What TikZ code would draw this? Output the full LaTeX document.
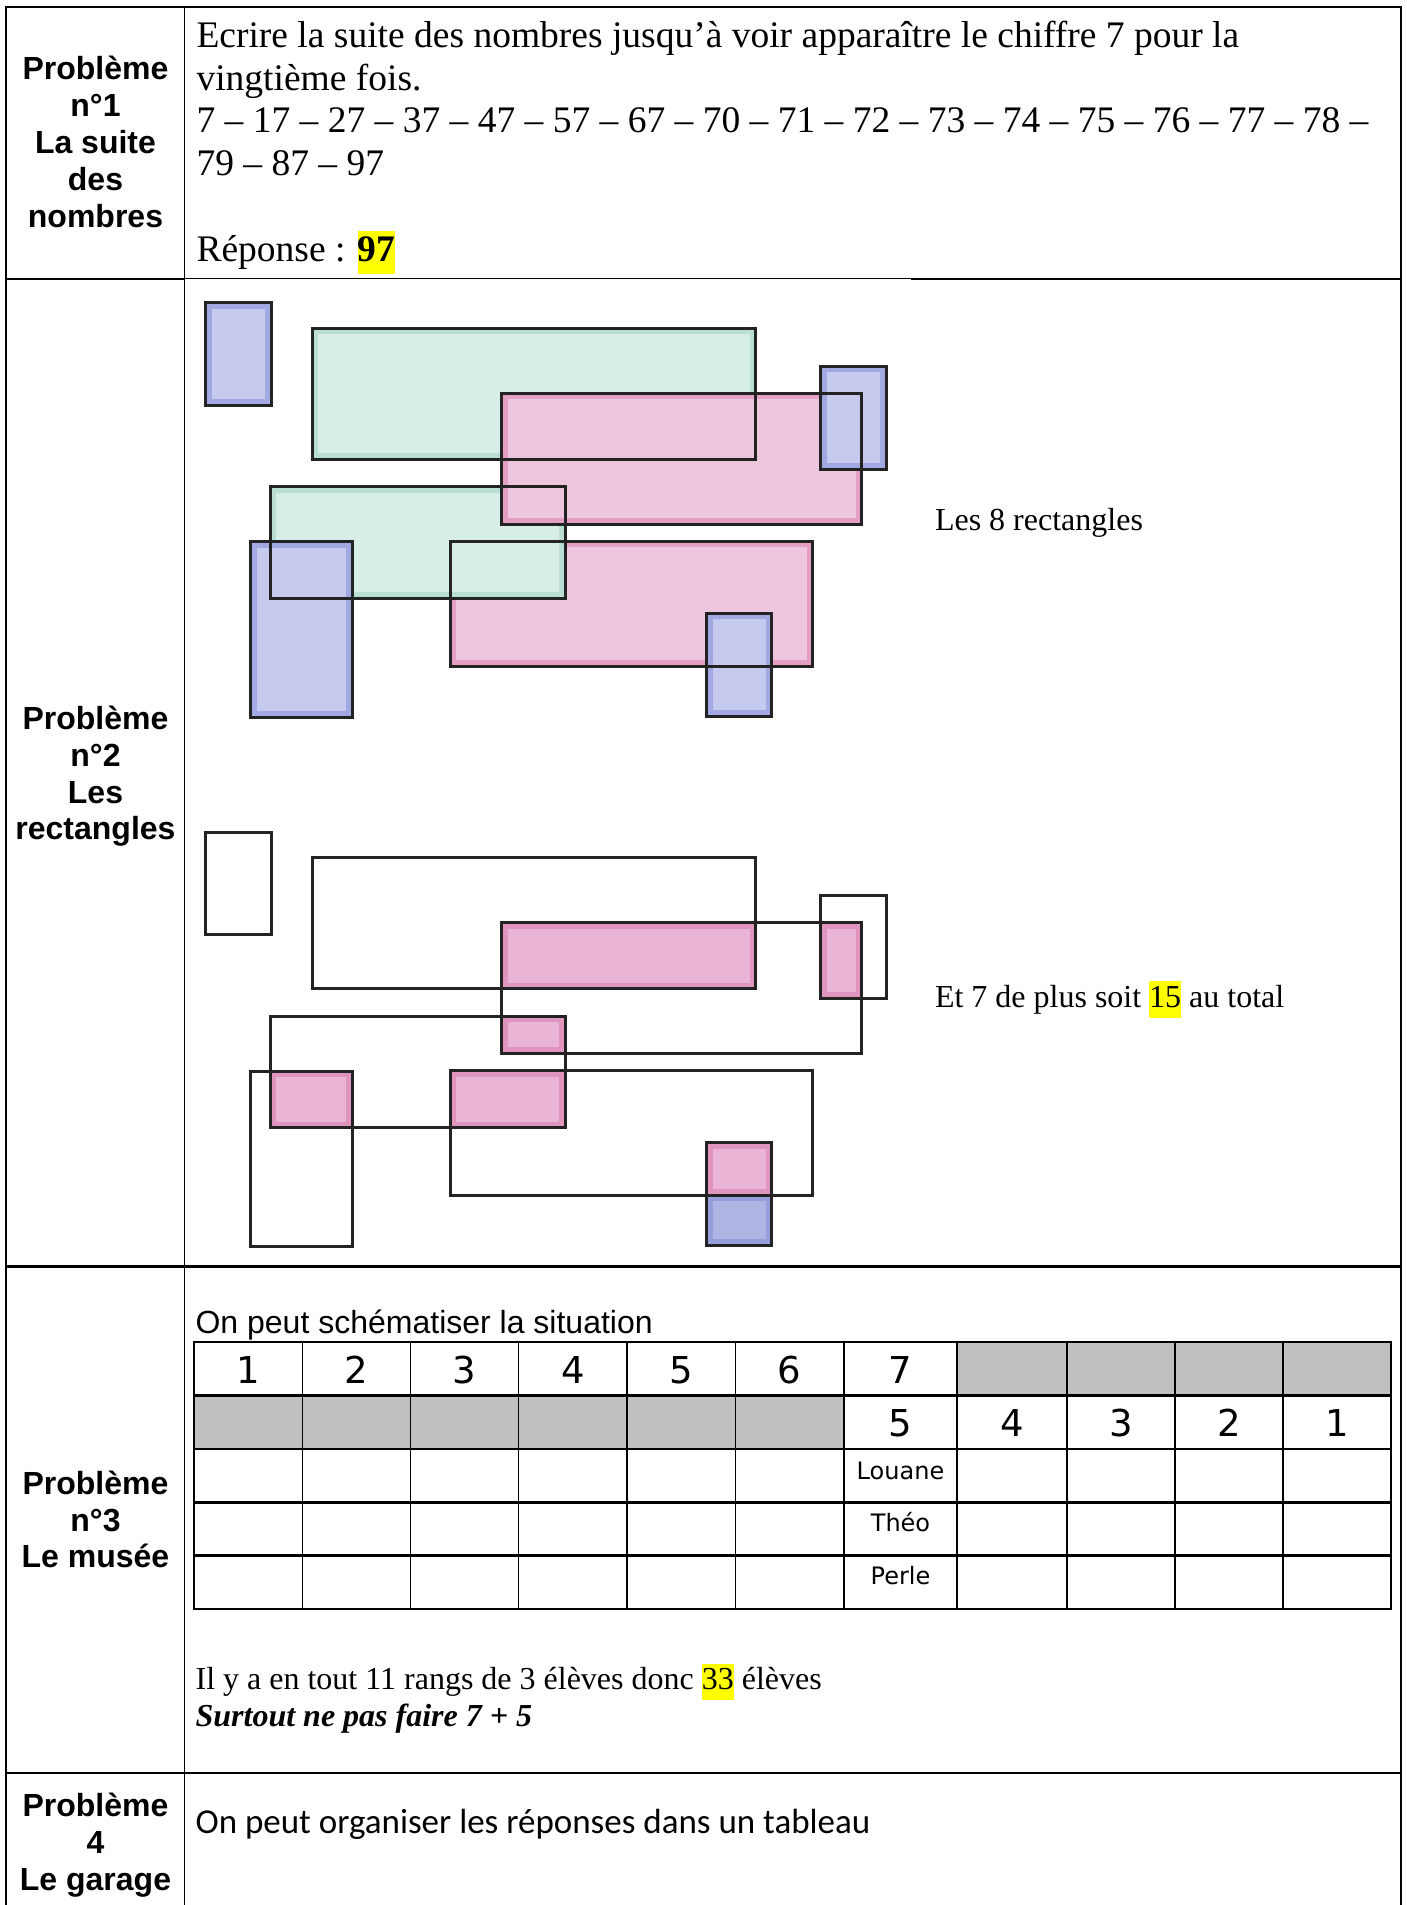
\documentclass[tikz,border=0pt]{standalone}
\usepackage{fontspec}
\setmainfont{Liberation Serif}
\newfontfamily\arialf{Liberation Sans}
\newfontfamily\comicf{DejaVu Sans}
\newfontfamily\calibf{Carlito}
\definecolor{hlyellow}{RGB}{255,255,0}
\definecolor{cellgray}{RGB}{192,192,192}
\definecolor{blueB}{RGB}{198,202,238}
\definecolor{blueE}{RGB}{120,130,212}
\definecolor{blueB2}{RGB}{176,182,228}
\definecolor{greenB}{RGB}{214,238,231}
\definecolor{greenE}{RGB}{150,206,190}
\definecolor{pinkB}{RGB}{238,198,222}
\definecolor{pinkB2}{RGB}{234,180,212}
\definecolor{pinkE}{RGB}{214,112,166}
\definecolor{outl}{RGB}{35,35,35}
\newcommand\hlt[1]{{\setlength{\fboxsep}{0pt}\colorbox{hlyellow}{\strut #1}}}
\newcommand\pr[6]{%
  \fill[#1] (#3,#4) rectangle (#5,#6);
  \begin{scope}
    \clip (#3,#4) rectangle (#5,#6);
    \draw[#2, line width=12pt, opacity=0.45] (#3,#4) rectangle (#5,#6);
  \end{scope}}
\newcommand\orect[4]{\draw[outl, line width=3pt] (#1,#2) rectangle (#3,#4);}
\tikzset{
  lab/.style={anchor=base, inner sep=0pt, outer sep=0pt, font=\arialf\bfseries\fontsize{32}{36.8}\selectfont},
  tms/.style={anchor=base west, inner sep=0pt, outer sep=0pt, font=\fontsize{37.5}{42.6}\selectfont},
  tmss/.style={anchor=base west, inner sep=0pt, outer sep=0pt, font=\fontsize{32}{36.8}\selectfont},
  arl/.style={anchor=base west, inner sep=0pt, outer sep=0pt, font=\arialf\fontsize{32}{36.8}\selectfont},
  cal/.style={anchor=base west, inner sep=0pt, outer sep=0pt, font=\calibf\fontsize{35}{40}\selectfont},
  dig/.style={anchor=base, inner sep=0pt, outer sep=0pt, font=\comicf\fontsize{37}{42}\selectfont},
  nm/.style={anchor=base, inner sep=0pt, outer sep=0pt, font=\comicf\fontsize{24}{28}\selectfont},
  frameline/.style={line width=2.4pt, black},
  thinline/.style={line width=1.4pt, black},
  tabh/.style={line width=2.2pt, black},
  tabv/.style={line width=1.2pt, black}
}
\begin{document}
\begin{tikzpicture}[x=1pt,y=-1pt]
\useasboundingbox[fill=white] (0,0) rectangle (1407,1905);

% ---------- drawing 1 : the 8 rectangles ----------
\pr{greenB}{greenE}{312.3}{328.3}{755.9}{459.3}
\pr{pinkB}{pinkE}{450}{541}{812.6}{666}
\pr{greenB}{greenE}{270.2}{486.7}{565.4}{598.3}
\pr{pinkB}{pinkE}{501.9}{393.3}{861.5}{524}
\pr{blueB}{blueE}{820.8}{366}{886.3}{469}
\pr{blueB}{blueE}{250.8}{541.7}{352.1}{717}
\pr{blueB}{blueE}{706.9}{613.3}{771.9}{716}
\pr{blueB}{blueE}{205.7}{302.7}{271.1}{405.3}
\orect{205.7}{302.7}{271.1}{405.3}
\orect{312.3}{328.3}{755.9}{459.3}
\orect{820.8}{366}{886.3}{469}
\orect{501.9}{393.3}{861.5}{524}
\orect{270.2}{486.7}{565.4}{598.3}
\orect{250.8}{541.7}{352.1}{717}
\orect{450}{541}{812.6}{666}
\orect{706.9}{613.3}{771.9}{716}

% ---------- drawing 2 : the 7 more ----------
\begin{scope}[yshift=-529.4pt]
\pr{pinkB2}{pinkE}{501.9}{393.3}{755.9}{459.3}
\pr{pinkB2}{pinkE}{820.8}{393.3}{861.5}{469}
\pr{pinkB2}{pinkE}{501.9}{486.7}{565.4}{524}
\pr{pinkB2}{pinkE}{270.2}{541.7}{352.1}{598.3}
\pr{pinkB2}{pinkE}{450}{541.7}{565.4}{598.3}
\pr{pinkB2}{pinkE}{706.9}{613.3}{771.9}{666}
\pr{blueB2}{blueE}{706.9}{666}{771.9}{716}
\orect{205.7}{302.7}{271.1}{405.3}
\orect{312.3}{328.3}{755.9}{459.3}
\orect{820.8}{366}{886.3}{469}
\orect{501.9}{393.3}{861.5}{524}
\orect{270.2}{486.7}{565.4}{598.3}
\orect{250.8}{541.7}{352.1}{717}
\orect{450}{541}{812.6}{666}
\orect{706.9}{613.3}{771.9}{716}
\end{scope}

% ---------- problem 3 table ----------
\fill[cellgray] (957,1342) rectangle (1391,1395.5);
\fill[cellgray] (194,1395.5) rectangle (844,1449);
\foreach \yy in {1342,1395.5,1449,1502.5,1555.5,1608.7}
  \draw[tabh] (193,\yy) -- (1392,\yy);
\foreach \xx in {194,302.5,410.6,518.8,627,735.5,844,957,1067,1175,1283,1391}
  \draw[tabv] (\xx,1342) -- (\xx,1608.7);
\foreach \cx/\t [count=\i] in {248.25/1,356.55/2,464.7/3,572.9/4,681.25/5,789.75/6,900.5/7}
  \node[dig] (ha\i) at (\cx,1383) {\t};
\foreach \cx/\t [count=\i] in {900.5/5,1012/4,1121/3,1229/2,1337/1}
  \node[dig] (hb\i) at (\cx,1436.7) {\t};
\node[nm] (louane) at (900.5,1479) {Louane};
\node[nm] (theo) at (900.5,1531.5) {Théo};
\node[nm] (perle) at (900.5,1584) {Perle};

% ---------- outer frame ----------
\draw[frameline] (5,7) -- (1402,7);
\draw[frameline] (6,7) -- (6,1905);
\draw[frameline] (1401,7) -- (1401,1905);
\draw[thinline] (184.5,7) -- (184.5,1905);
\draw[frameline] (5,279) -- (184.5,279);
\draw[thinline] (184.5,278.5) -- (911,278.5);
\draw[frameline] (911,279) -- (1402,279);
\draw[frameline] (5,1266.5) -- (1402,1266.5);
\draw[frameline] (5,1772.7) -- (1402,1772.7);

% ---------- left column labels ----------
\node[lab] (l1a) at (95.5,80) {Problème};
\node[lab] (l1b) at (95.5,116.8) {n°1};
\node[lab] (l1c) at (95.5,153.6) {La suite};
\node[lab] (l1d) at (95.5,190.4) {des};
\node[lab] (l1e) at (95.5,227.2) {nombres};

\node[lab] (l2a) at (95.5,729.5) {Problème};
\node[lab] (l2b) at (95.5,766.3) {n°2};
\node[lab] (l2c) at (95.5,803.1) {Les};
\node[lab] (l2d) at (95.5,839.9) {rectangles};

\node[lab] (l3a) at (95.5,1494.5) {Problème};
\node[lab] (l3b) at (95.5,1531.2) {n°3};
\node[lab] (l3c) at (95.5,1567.9) {Le musée};

\node[lab] (l4a) at (95.5,1816.5) {Problème};
\node[lab] (l4b) at (95.5,1853.3) {4};
\node[lab] (l4c) at (95.5,1890.1) {Le garage};

% ---------- problem 1 text ----------
\node[tms] (p1a) at (196.5,47.5) {Ecrire la suite des nombres jusqu’à voir apparaître le chiffre 7 pour la};
\node[tms] (p1b) at (196.5,90.1) {vingtième fois.};
\node[tms] (p1c) at (196.5,132.7) {7 – 17 – 27 – 37 – 47 – 57 – 67 – 70 – 71 – 72 – 73 – 74 – 75 – 76 – 77 – 78 –};
\node[tms] (p1d) at (196.5,175.3) {79 – 87 – 97};
\node[tms] (p1e) at (196.5,261) {Réponse : \hlt{\bfseries 97}};

% ---------- problem 2 text ----------
\node[tmss] (p2a) at (935,530.5) {Les 8 rectangles};
\node[tmss] (p2b) at (935,1007) {Et 7 de plus soit \hlt{15} au total};

% ---------- problem 3 text ----------
\node[arl] (p3a) at (195.6,1333.3) {On peut schématiser la situation};
\node[tmss] (p3b) at (195.6,1689.3) {Il y a en tout 11 rangs de 3 élèves donc \hlt{33} élèves};
\node[tmss] (p3c) at (195.6,1726.4) {\bfseries\itshape Surtout ne pas faire 7 + 5};

% ---------- problem 4 text ----------
\node[cal] (p4a) at (195.6,1833.3) {On peut organiser les réponses dans un tableau};
\end{tikzpicture}
\end{document}
